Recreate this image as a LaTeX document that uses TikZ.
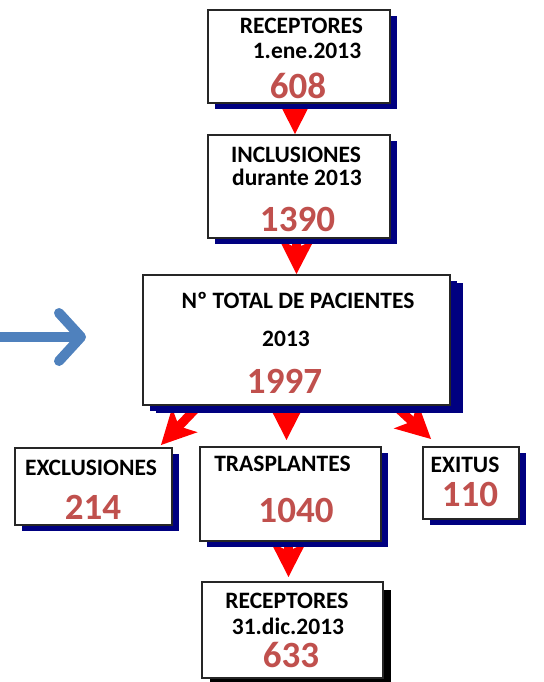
\documentclass[tikz,border=0pt]{standalone}
\usepackage{fontspec}
\setmainfont{Carlito}
\usetikzlibrary{arrows.meta,shadows,backgrounds}
\definecolor{numred}{HTML}{C0504D}
\definecolor{shadenavy}{HTML}{000080}
\definecolor{steel}{HTML}{4F81BD}
\definecolor{flowred}{HTML}{FF0000}

\begin{document}
\begin{tikzpicture}[x=0.5pt, y=-0.5pt,
  box/.style={draw=black!85, line width=0.9pt, fill=white, inner sep=0pt,
    drop shadow={shadow xshift=3.5pt, shadow yshift=-3pt, fill=shadenavy, opacity=1}},
  txt/.style={inner sep=0pt, font=\bfseries\fontsize{11.75}{13}\selectfont},
  num/.style={inner sep=0pt, text=numred, font=\bfseries\fontsize{18.5}{21}\selectfont},
  flow/.style={draw=flowred, line width=4.5pt, -{Stealth[length=17pt, width=17pt, inset=4pt]}},
  feed/.style={draw=steel, line width=5pt, line cap=round, -{Straight Barb[length=11pt, width=24pt, round]}}]
\useasboundingbox (0,0) rectangle (544,682);

% boxes
\node[box, minimum width=91pt, minimum height=46.5pt] (rec1) at (299,56.5) {};
\node[box, minimum width=91pt, minimum height=51.5pt] (incl) at (299,186.5) {};
\node[box, minimum width=153.5pt, minimum height=65pt,
  drop shadow={shadow xshift=6.5pt, shadow yshift=-4pt, fill=shadenavy, opacity=1}] (total) at (296.5,340) {};
\node[box, minimum width=78.5pt, minimum height=38.5pt] (excl) at (93.5,486.5) {};
\node[box, minimum width=90.5pt, minimum height=47pt] (tras) at (290.5,494) {};
\node[box, minimum width=48pt, minimum height=36pt] (exitus) at (471,483) {};
\node[draw=black!85, line width=0.9pt, fill=white, inner sep=0pt, minimum width=90.5pt, minimum height=48pt,
  drop shadow={shadow xshift=4pt, shadow yshift=-4pt, fill=black, opacity=1}] (rec2) at (292.5,630) {};

% texts
\node[txt] (rec1a) at (301.5,25.5) {RECEPTORES};
\node[txt] (rec1b) at (307,51) {1.ene.2013};
\node[num] (rec1n) at (298,86) {608};
\node[txt] (incla) at (296,154.5) {INCLUSIONES};
\node[txt] (inclb) at (297,177) {durante 2013};
\node[num] (incln) at (297.5,219.5) {1390};
\node[txt] (totala) at (298,300.5) {Nº TOTAL DE PACIENTES};
\node[txt] (totalb) at (286,339) {2013};
\node[num] (totaln) at (284.5,381.5) {1997};
\node[txt] (excla) at (91,468) {EXCLUSIONES};
\node[num] (excln) at (93,507) {214};
\node[txt] (trasa) at (282.5,464) {TRASPLANTES};
\node[num] (trasn) at (296,510.5) {1040};
\node[txt] (exitusa) at (465,464.5) {EXITUS};
\node[num] (exitusn) at (470,494) {110};
\node[txt] (rec2a) at (287,600.5) {RECEPTORES};
\node[txt] (rec2b) at (288,626) {31.dic.2013};
\node[num] (rec2n) at (291,655) {633};

% connectors, behind the boxes
\begin{scope}[on background layer]
\draw[flow] ([xshift=-2pt]rec1.center) -- ([xshift=-2pt]incl.north);
\draw[flow] ([xshift=-1pt]incl.center) -- (total.north);
\draw[flow] ([xshift=-5pt]total.center) -- ([xshift=-2pt, yshift=3pt]tras.north);
\draw[flow] ([xshift=31pt, yshift=3pt]total.south west) -- ([xshift=-6pt, yshift=1pt]excl.north east);
\draw[flow] ([xshift=-31pt, yshift=3pt]total.south east) -- ([xshift=4.5pt, yshift=3.5pt]exitus.north west);
\draw[flow] ([xshift=-1pt]tras.center) -- ([xshift=-2pt, yshift=2pt]rec2.north);
\end{scope}

\coordinate (src) at (0,337);
\coordinate (dst) at (86,337);
\draw[feed] (src) -- (dst);
\end{tikzpicture}
\end{document}
